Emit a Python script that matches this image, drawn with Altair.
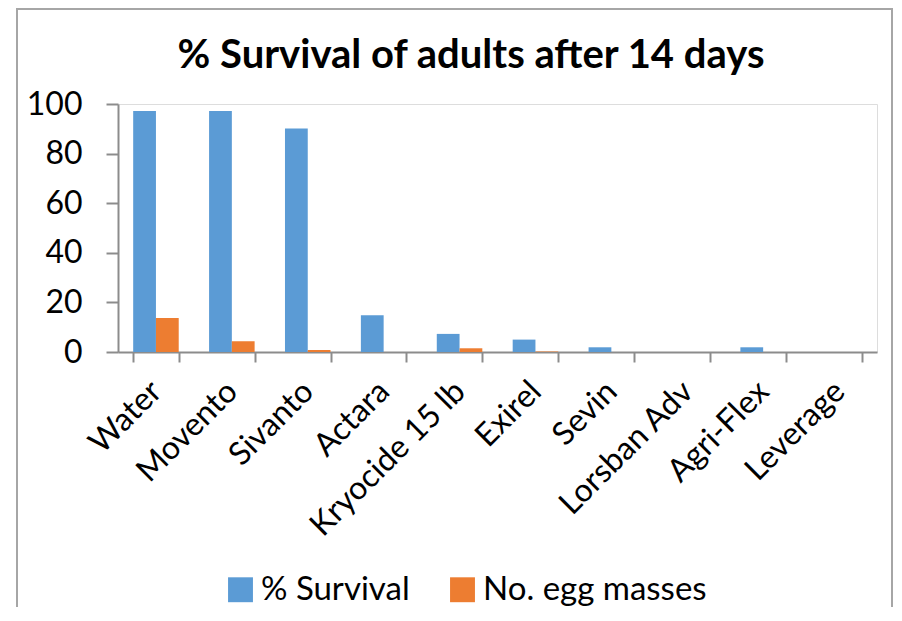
import altair as alt
import pandas as pd

categories = ["Water", "Movento", "Sivanto", "Actara", "Kryocide 15 lb",
              "Exirel", "Sevin", "Lorsban Adv", "Agri-Flex", "Leverage"]
survival = [97.2, 97.2, 90.1, 14.8, 7.3, 5.0, 1.9, 0.0, 1.9, 0.0]
egg_masses = [13.7, 4.3, 0.8, 0.0, 1.5, 0.2, 0.0, 0.0, 0.0, 0.0]
series = ["% Survival", "No. egg masses"]
colors = ["#5B9BD5", "#ED7D31"]
y_ticks = [0, 20, 40, 60, 80, 100]
title_text = "% Survival of adults after 14 days"

rows = []
for c, s, e in zip(categories, survival, egg_masses):
    rows.append({"Treatment": c, "Series": series[0], "Value": s})
    rows.append({"Treatment": c, "Series": series[1], "Value": e})
df = pd.DataFrame(rows)

FONT = "Lato"
AXIS_GRAY = "#8C8C8C"

bars = alt.Chart(df).mark_bar().encode(
    x=alt.X("Treatment:N", sort=categories, title=None,
            scale=alt.Scale(paddingInner=0.4, paddingOuter=0.2),
            axis=alt.Axis(labelAngle=-45, labelAlign="right", labelBaseline="middle",
                          labelFontSize=32, labelFont=FONT, labelColor="black",
                          labelPadding=24, tickBand="extent", tickSize=10,
                          tickColor=AXIS_GRAY, domainColor=AXIS_GRAY, domainWidth=2,
                          tickWidth=2, labelLimit=0)),
    xOffset=alt.XOffset("Series:N", sort=series),
    y=alt.Y("Value:Q", title=None,
            scale=alt.Scale(domain=[0, 100], nice=False),
            axis=alt.Axis(values=y_ticks, grid=False, labelFontSize=32, labelFont=FONT,
                          labelColor="black", tickSize=12, labelPadding=24,
                          tickColor=AXIS_GRAY, domainColor=AXIS_GRAY, domainWidth=2,
                          tickWidth=2)),
    color=alt.Color("Series:N", sort=series,
                    scale=alt.Scale(domain=series, range=colors),
                    legend=alt.Legend(title=None, orient="none", direction="horizontal",
                                      legendX=106, legendY=469, symbolType="square",
                                      symbolSize=620, symbolStrokeWidth=0,
                                      labelFontSize=33, labelFont=FONT, labelColor="black",
                                      columnPadding=36, labelOffset=4, labelLimit=0,
                                      symbolOpacity=1)),
)

frame = alt.Chart(alt.Data(values=[{}])).mark_rect(
    fill=None, stroke="#A6A6A6", strokeWidth=2
).encode(
    x=alt.value(-101), x2=alt.value(774), y=alt.value(-95), y2=alt.value(540)
)

title = alt.Chart(alt.Data(values=[{"t": title_text}])).mark_text(
    font=FONT, fontSize=40, fontWeight="bold", color="black",
    align="center", baseline="alphabetic"
).encode(
    text="t:N", x=alt.value(353), y=alt.value(-36)
)

chart = alt.layer(frame, title, bars).properties(
    width=759, height=248,
    padding={"left": 110, "top": 96, "right": 17, "bottom": 255},
    autosize=alt.AutoSizeParams(type="none"),
).configure_view(stroke="black", strokeWidth=1.5).configure(background="white")

chart.save("out.html", embed_options={"renderer": "svg", "actions": False})
